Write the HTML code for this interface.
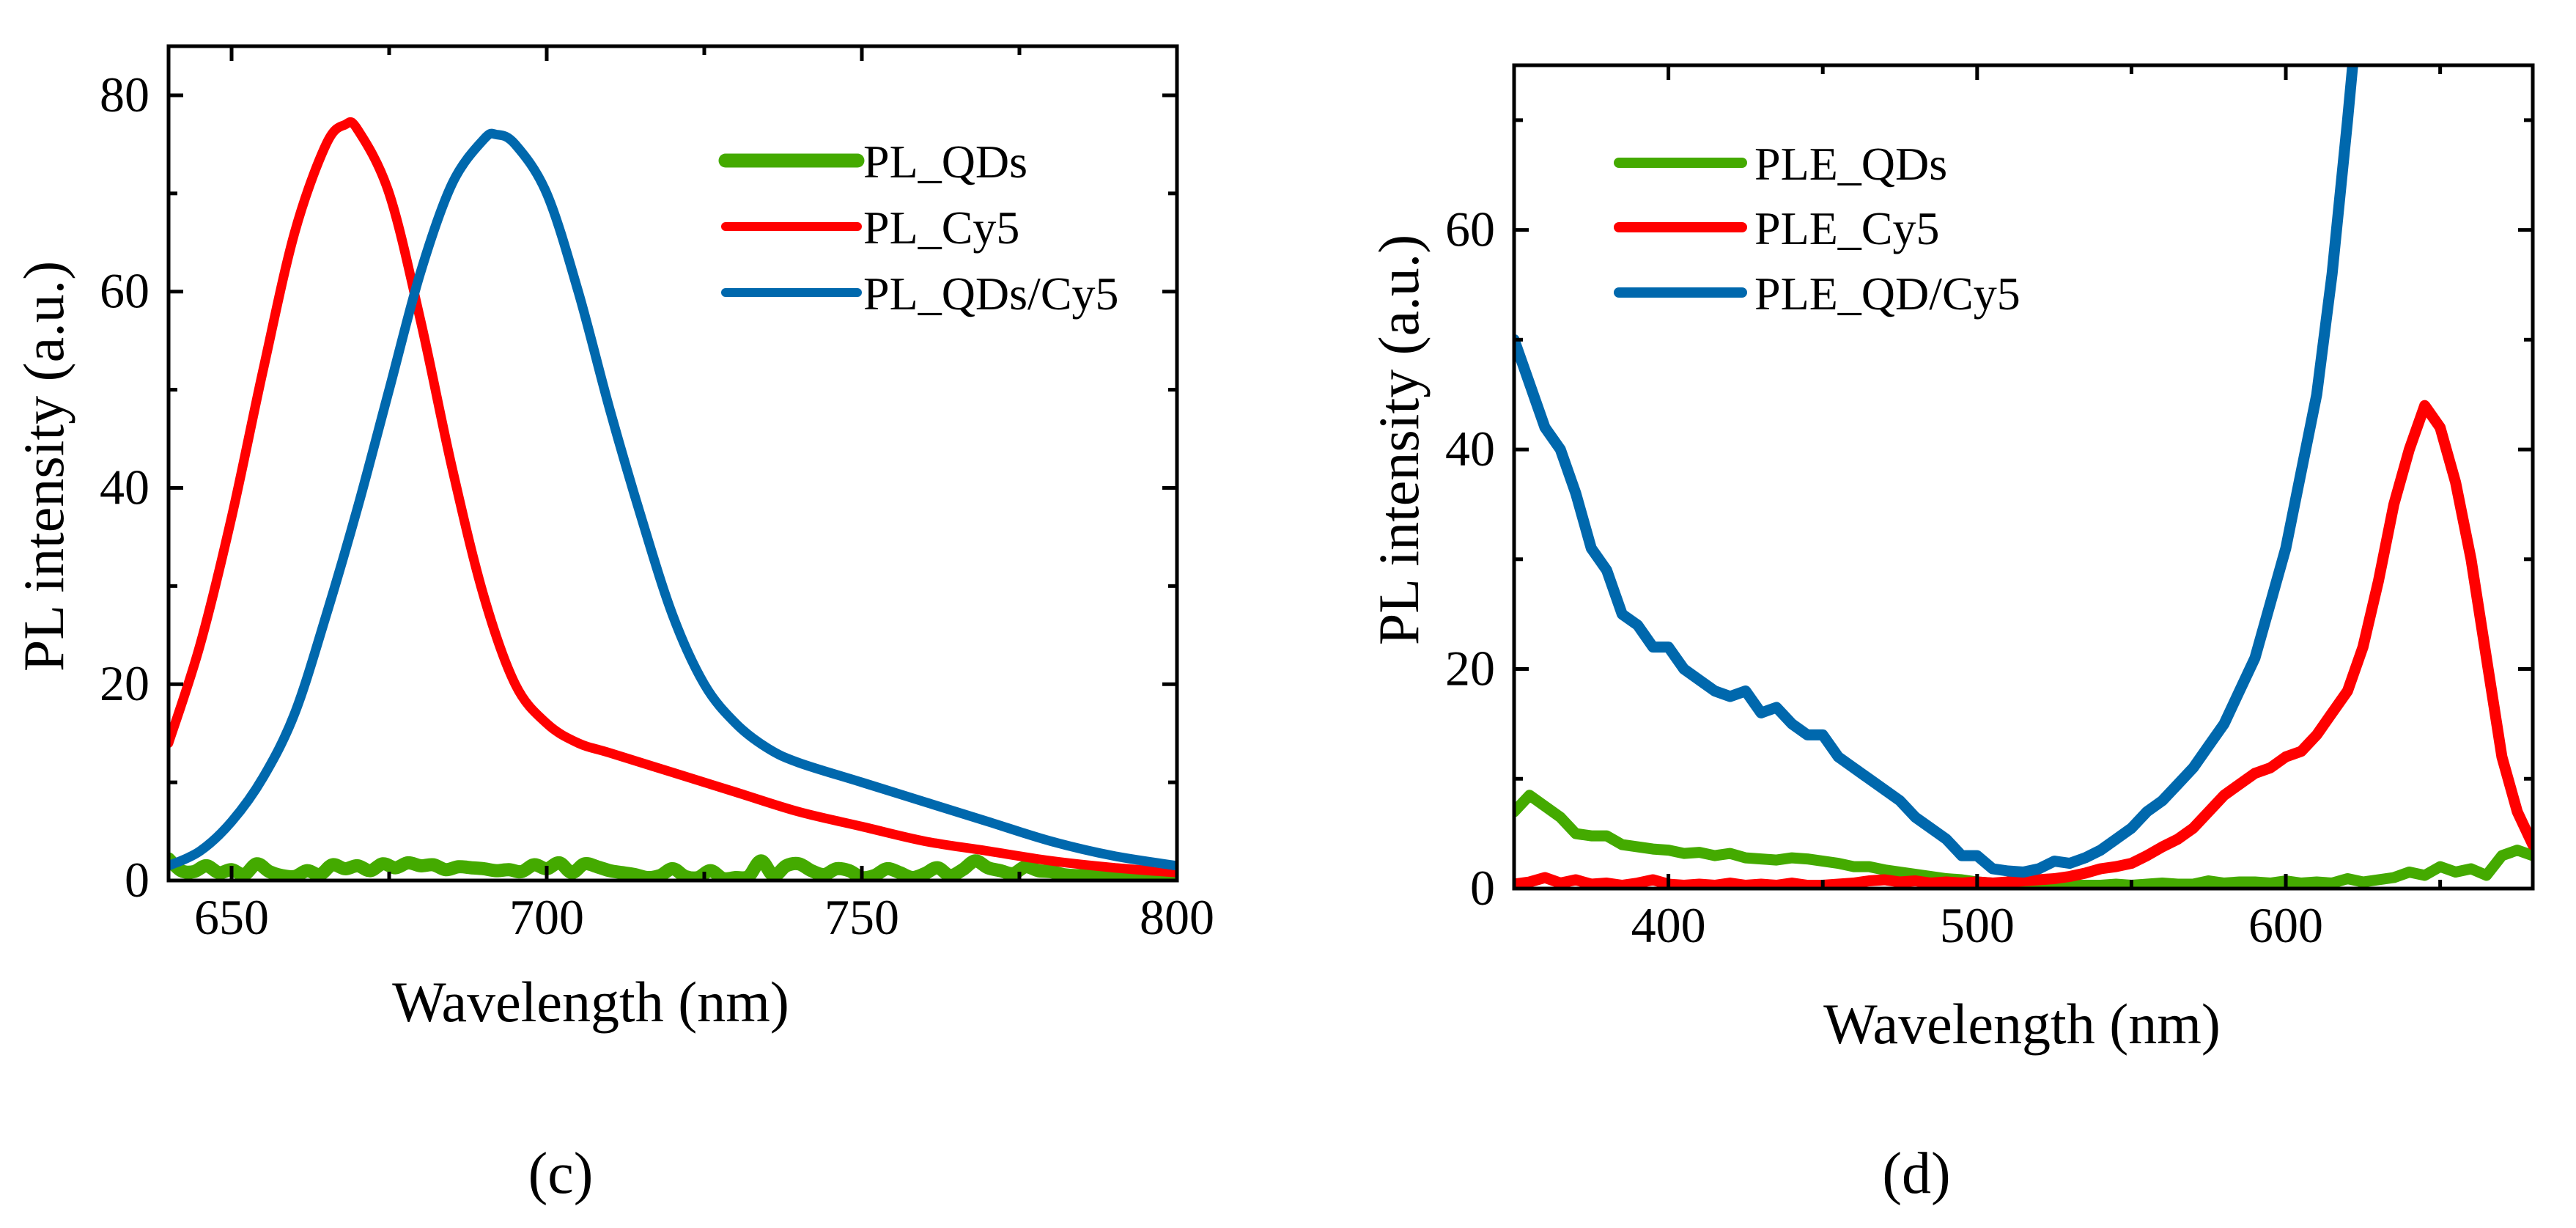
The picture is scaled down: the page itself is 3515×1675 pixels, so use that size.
<!DOCTYPE html>
<html><head><meta charset="utf-8">
<style>
html,body{margin:0;padding:0;background:#fff;}
svg{display:block;}
text{font-family:"Liberation Serif",serif;fill:#000;}
</style></head>
<body>
<svg id="fig" width="3515" height="1675" viewBox="0 0 3515 1675" xmlns="http://www.w3.org/2000/svg">
  <defs>
    <clipPath id="clipC"><rect x="230" y="63" width="1376" height="1138"/></clipPath>
    <clipPath id="clipD"><rect x="2066" y="89" width="1390" height="1123"/></clipPath>
  </defs>
  <g id="panelC"></g>
  <g id="panelD"></g>
</svg>
<script>
// ---------- Panel (c) data ----------
const wlC_red = [640,645,650,655,660,665,668,670,675,680,685,690,695,700,705,710,720,730,740,750,760,770,780,790,800];
const plCy5 = [14,24,37,52,66,75,77,76.5,70,57,42,29,20,16,14,13,11,9,7,5.5,4,3,2,1.3,0.8];
const wlC_blue = [640,645,650,655,660,665,670,675,680,685,690,692,695,700,705,710,715,720,725,730,735,740,750,760,770,780,790,800];
const plQDsCy5 = [1.5,3,6,10.5,17,27,38,50,62,71,75.5,76,75,70,60,48,37,27,20,16,13.5,12,10,8,6,4,2.5,1.5];
const plQDs = [2.2,1.0,0.9,1.5,0.8,1.1,0.6,1.7,0.9,0.5,0.4,1.0,0.6,1.6,1.2,1.5,1.0,1.7,1.3,1.8,1.5,1.6,1.1,1.4,1.3,1.2,1.0,1.1,0.9,1.6,1.2,1.8,0.8,1.7,1.4,1.0,0.8,0.6,0.3,0.5,1.2,0.4,0.3,1.0,0.2,0.3,0.4,2.0,0.5,1.5,1.7,1.0,0.6,1.2,1.0,0.3,0.5,1.2,0.8,0.3,0.7,1.3,0.5,1.1,2.0,1.3,1.0,0.7,1.4,1.0,0.9,0.6,0.5,0.5,0.4,0.3,0.3,0.2,0.2,0.2,0.2];
const xTicksC = [650,700,750,800];
const yTicksC = [0,20,40,60,80];

// ---------- Panel (d) data ----------
const wlD = [350,355,360,365,370,375,380,385,390,395,400,405,410,415,420,425,430,435,440,445,450,455,460,465,470,475,480,485,490,495,500,505,510,515,520,525,530,535,540,545,550,555,560,565,570,575,580,585,590,595,600,605,610,615,620,625,630,635,640,645,650,655,660,665,670,675,680];
const pleQDs = [7,8.5,7.5,6.5,5,4.8,4.8,4,3.8,3.6,3.5,3.2,3.3,3,3.2,2.8,2.7,2.6,2.8,2.7,2.5,2.3,2.0,2.0,1.7,1.5,1.3,1.1,0.9,0.8,0.6,0.5,0.4,0.4,0.4,0.3,0.3,0.3,0.3,0.4,0.3,0.4,0.5,0.4,0.4,0.7,0.5,0.6,0.6,0.5,0.7,0.5,0.6,0.5,0.9,0.6,0.8,1.0,1.5,1.2,2.0,1.5,1.8,1.2,3.0,3.5,3.0];
const pleCy5 = [0.4,0.6,1.0,0.5,0.8,0.4,0.5,0.3,0.5,0.8,0.4,0.3,0.4,0.3,0.5,0.3,0.4,0.3,0.5,0.3,0.3,0.4,0.5,0.7,0.8,0.6,0.7,0.5,0.6,0.5,0.6,0.5,0.6,0.7,0.8,0.9,1.1,1.4,1.8,2.0,2.3,3.0,3.8,4.5,5.5,7,8.5,9.5,10.5,11,12,12.5,14,16,18,22,28,35,40,44,42,37,30,21,12,7,4];
const pleQDCy5 = [50,46,42,40,36,31,29,25,24,22,22,20,19,18,17.5,18,16,16.5,15,14,14,12,11,10,9,8,6.5,5.5,4.5,3,3,1.8,1.6,1.5,1.8,2.5,2.3,2.8,3.5,4.5,5.5,7,8,9.5,11,13,15,18,21,26,31,38,45,56,70,85];
const xTicksD = [400,500,600];
const yTicksD = [0,20,40,60];

const NS = "http://www.w3.org/2000/svg";
function mk(tag, attrs, parent){
  const e = document.createElementNS(NS, tag);
  for (const k in attrs) e.setAttribute(k, attrs[k]);
  parent.appendChild(e);
  return e;
}
function smoothPath(pts){
  let d = "M" + pts[0][0] + "," + pts[0][1];
  for (let i=0;i<pts.length-1;i++){
    const p0 = pts[i-1]||pts[i], p1 = pts[i], p2 = pts[i+1], p3 = pts[i+2]||p2;
    const c1x = p1[0]+(p2[0]-p0[0])/6, c1y = p1[1]+(p2[1]-p0[1])/6;
    const c2x = p2[0]-(p3[0]-p1[0])/6, c2y = p2[1]-(p3[1]-p1[1])/6;
    d += " C"+c1x+","+c1y+" "+c2x+","+c2y+" "+p2[0]+","+p2[1];
  }
  return d;
}

function drawPanel(cfg){
  const g = document.getElementById(cfg.id);
  const sx = v => cfg.L + (v-cfg.xmin)/(cfg.xmax-cfg.xmin)*(cfg.R-cfg.L);
  const sy = v => cfg.B - (v-cfg.ymin)/(cfg.ymax-cfg.ymin)*(cfg.B-cfg.T);
  const plot = mk('g', {'clip-path':'url(#'+cfg.clip+')'}, g);
  
  
  cfg.series.forEach(s => {
    const pts = s.y.map((v,i)=>[sx(s.x[i]), sy(v)]);
    const p = mk('path', {d: s.smooth ? smoothPath(pts) : ("M"+pts.map(q=>q[0].toFixed(1)+","+q[1].toFixed(1)).join(" L")),
      fill:'none', stroke:s.color, 'stroke-width':s.w, 'stroke-linejoin':'round', 'stroke-linecap':'round'}, plot);
    
    
  });
  const fr = mk('rect', {x:cfg.L, y:cfg.T, width:cfg.R-cfg.L, height:cfg.B-cfg.T, fill:'none', stroke:'#000', 'stroke-width':5}, g);
  
  
  const xstep = cfg.xTicks[1]-cfg.xTicks[0];
  for (let v = cfg.xTicks[0]-xstep; v <= cfg.xmax; v += xstep/2){
    if (v < cfg.xmin) continue;
    const major = cfg.xTicks.includes(v);
    const len = major ? 20 : 12;
    const x = sx(v);
    mk('line', {x1:x, y1:cfg.B, x2:x, y2:cfg.B-len, stroke:'#000','stroke-width':5}, g);
    mk('line', {x1:x, y1:cfg.T, x2:x, y2:cfg.T+len, stroke:'#000','stroke-width':5}, g);
  }
  cfg.xTicks.forEach(v => {
    const t = mk('text', {x:sx(v), y:cfg.B+73, 'font-size':68, 'text-anchor':'middle'}, g);
    t.textContent = v;
    
    
  });
  const ystep = cfg.yTicks[1]-cfg.yTicks[0];
  for (let v = cfg.ymin; v <= cfg.ymax; v += ystep/2){
    const major = cfg.yTicks.includes(v);
    const len = major ? 20 : 12;
    const y = sy(v);
    mk('line', {x1:cfg.L, y1:y, x2:cfg.L+len, y2:y, stroke:'#000','stroke-width':5}, g);
    mk('line', {x1:cfg.R, y1:y, x2:cfg.R-len, y2:y, stroke:'#000','stroke-width':5}, g);
  }
  cfg.yTicks.forEach(v => {
    const t = mk('text', {x:cfg.L-26, y:sy(v)+22, 'font-size':68, 'text-anchor':'end'}, g);
    t.textContent = v;
    
    
  });
  const xt = mk('text', {x:cfg.xtx, y:cfg.xty, 'font-size':78, 'text-anchor':'middle'}, g);
  xt.textContent = 'Wavelength (nm)';
  
  
  const yt = mk('text', {x:0, y:0, 'font-size':78, 'text-anchor':'middle', transform:'translate('+cfg.ytx+','+cfg.yty+') rotate(-90)'}, g);
  yt.textContent = 'PL intensity (a.u.)';
  
  
  const pl = mk('text', {x:cfg.plx, y:cfg.ply, 'font-size':80, 'text-anchor':'middle'}, g);
  pl.textContent = cfg.panelLabel;
  
  
  cfg.series.forEach((s,i) => {
    const y = cfg.legY[i];
    const lg = mk('g', {}, g);
    
    
    mk('line', {x1:cfg.legX1, y1:y, x2:cfg.legX2, y2:y, stroke:s.color, 'stroke-width':s.legW, 'stroke-linecap':'round'}, lg);
    const t = mk('text', {x:cfg.legTX, y:y+cfg.legFS*0.36, 'font-size':cfg.legFS}, lg);
    t.textContent = s.label;
  });
}

const GREEN = '#44aa00', RED = '#ff0000', BLUE = '#0068ad';

drawPanel({
  id:'panelC', prefix:'panel-c', clip:'clipC', L:230, R:1606, T:63, B:1201,
  xmin:640, xmax:800, ymin:0, ymax:85, xTicks:xTicksC, yTicks:yTicksC,
  xtx:806, xty:1393, ytx:86, yty:636, plx:765, ply:1627, panelLabel:'(c)',
  legX1:990, legX2:1170, legTX:1178, legY:[219,309,399], legFS:64,
  series:[
    {name:'pl-qds-line', label:'PL_QDs', color:GREEN, w:18, legW:19, smooth:true,
     x:plQDs.map((_,i)=>640+i*160/(plQDs.length-1)), y:plQDs},
    {name:'pl-cy5-line', label:'PL_Cy5', color:RED, w:13, legW:12, smooth:true, x:wlC_red, y:plCy5},
    {name:'pl-qds-cy5-line', label:'PL_QDs/Cy5', color:BLUE, w:13, legW:12, smooth:true, x:wlC_blue, y:plQDsCy5}
  ]
});
drawPanel({
  id:'panelD', prefix:'panel-d', clip:'clipD', L:2066, R:3456, T:89, B:1212,
  xmin:350, xmax:680, ymin:0, ymax:75, xTicks:xTicksD, yTicks:yTicksD,
  xtx:2759, xty:1423, ytx:1935, yty:600, plx:2615, ply:1627, panelLabel:'(d)',
  legX1:2209, legX2:2377, legTX:2394, legY:[222,310,399], legFS:64,
  series:[
    {name:'ple-qds-line', label:'PLE_QDs', color:GREEN, w:15, legW:14, smooth:false, x:wlD, y:pleQDs},
    {name:'ple-cy5-line', label:'PLE_Cy5', color:RED, w:15, legW:14, smooth:false, x:wlD, y:pleCy5},
    {name:'ple-qd-cy5-line', label:'PLE_QD/Cy5', color:BLUE, w:15, legW:14, smooth:false, x:wlD.slice(0, pleQDCy5.length), y:pleQDCy5}
  ]
});
</script>
</body></html>
